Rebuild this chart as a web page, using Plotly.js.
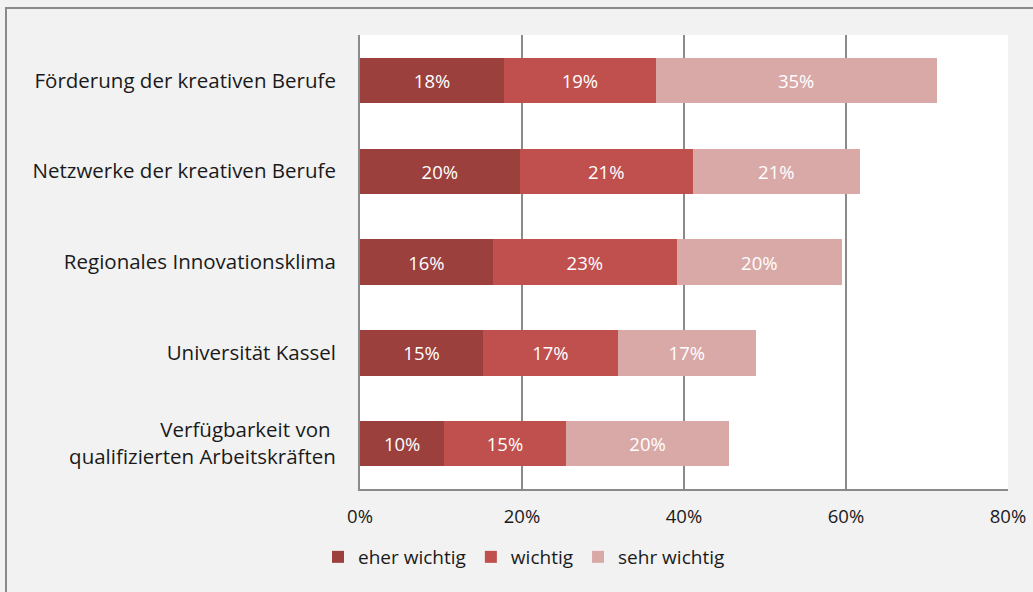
<!DOCTYPE html>
<html>
<head>
<meta charset="utf-8">
<script src="https://cdn.plot.ly/plotly-3.0.1.min.js"></script>
<style>
html,body{margin:0;padding:0;background:#f2f2f2;}
#chart{width:1033px;height:592px;}
</style>
</head>
<body>
<div id="chart"></div>
<script>
const categories = [
  "Förderung der kreativen Berufe",
  "Netzwerke der kreativen Berufe",
  "Regionales Innovationsklima",
  "Universität Kassel",
  "Verfügbarkeit von <br>qualifizierten Arbeitskräften"
];
const eherWichtig = [17.8, 19.7, 16.4, 15.2, 10.4];
const wichtig     = [18.7, 21.4, 22.7, 16.6, 15.0];
const sehrWichtig = [34.7, 20.6, 20.4, 17.1, 20.2];
const seriesNames = ["eher wichtig", "wichtig", "sehr wichtig"];
const xTickVals = [0, 20, 40, 60, 80];
const xTickText = ["0%", "20%", "40%", "60%", "80%"];

const colors = ["#9c403e", "#c0504d", "#d9a9a8"];
const FONT = "'Open Sans', sans-serif";

const series = [eherWichtig, wichtig, sehrWichtig];
const traces = series.map((vals, i) => ({
  type: "bar",
  orientation: "h",
  name: seriesNames[i],
  y: categories,
  x: vals,
  marker: {color: colors[i], line: {width: 0}},
  texttemplate: "%{x:.0f}%",
  textposition: "inside",
  insidetextanchor: "middle",
  textfont: {family: FONT, size: 18.5, color: "#ffffff"},
  hoverinfo: "skip"
}));

// plot area in px: left 360, right 1008, top 35, bottom 489
const pw = 648, ph = 454;
const px = v => (v - 360) / pw;
const py = v => (489 - v) / ph;

const layout = {
  width: 1033,
  height: 592,
  margin: {l: 360, r: 25, t: 35, b: 103, pad: 0},
  paper_bgcolor: "#f2f2f2",
  plot_bgcolor: "#ffffff",
  barmode: "stack",
  bargap: 0.5,
  font: {family: FONT, size: 18.5, color: "#1a1a1a"},
  xaxis: {
    range: [0, 80],
    tickvals: xTickVals,
    ticktext: xTickText,
    showgrid: true,
    gridcolor: "#8a8a8a",
    gridwidth: 1.5,
    zeroline: false,
    showline: true,
    linecolor: "#8a8a8a",
    linewidth: 1.5,
    ticks: "outside",
    ticklen: 10,
    tickcolor: "rgba(0,0,0,0)",
    tickfont: {family: FONT, size: 18.5, color: "#1a1a1a"},
    fixedrange: true
  },
  yaxis: {
    type: "category",
    autorange: "reversed",
    showgrid: false,
    showline: true,
    linecolor: "#8a8a8a",
    linewidth: 2,
    ticks: "outside",
    ticklen: 18,
    tickcolor: "rgba(0,0,0,0)",
    tickfont: {family: FONT, size: 20.5, color: "#1a1a1a"},
    fixedrange: true
  },
  showlegend: true,
  legend: {
    orientation: "h",
    x: px(524),
    xanchor: "center",
    y: py(557),
    yanchor: "middle",
    font: {family: FONT, size: 19, color: "#1a1a1a"},
    bgcolor: "rgba(0,0,0,0)",
    itemwidth: 30,
    traceorder: "normal"
  },
  shapes: [
    {type: "line", xref: "paper", yref: "paper", x0: px(6), x1: px(1040), y0: py(8), y1: py(8),
     line: {color: "#8a8a8a", width: 2}},
    {type: "line", xref: "paper", yref: "paper", x0: px(6), x1: px(6), y0: py(7), y1: py(600),
     line: {color: "#8a8a8a", width: 2}}
  ]
};

Plotly.newPlot("chart", traces, layout, {displayModeBar: false, staticPlot: true});
</script>
</body>
</html>
